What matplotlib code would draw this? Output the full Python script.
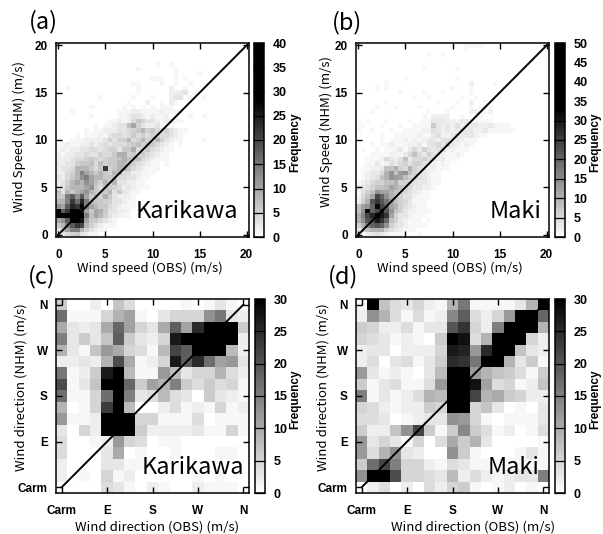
import numpy as np
import matplotlib
matplotlib.use('Agg')
import matplotlib.pyplot as plt
from matplotlib.colors import LinearSegmentedColormap, Normalize

W, H = 603, 534

# wind speed histograms, 0.5 m/s bins, rows go upward from y=0, trailing zeros left out
speed_bins = np.arange(0, 20.5, 0.5)

karikawa_speed = [
    [1,3,4,5,6,3,2,1,1],
    [3,6,10,14,14,8,5,3,2,1,1],
    [6,8,14,18,22,20,8,5,3,2,1,1,1],
    [10,12,18,28,28,26,10,6,6,4,3,2,1],
    [30,30,30,30,30,30,14,7,10,8,5,3,2,2,1,1,0,1],
    [30,18,22,28,28,24,10,6,10,9,6,3,3,2,2,1],
    [12,10,18,24,22,27,14,10,8,6,6,4,3,2,1,1,1],
    [8,8,14,22,16,24,14,8,6,6,5,5,3,3,2,1,1],
    [6,6,14,18,12,18,10,6,8,5,9,6,3,2,2,2,1],
    [7,3,8,6,8,10,12,8,6,6,6,8,3,6,3,2,1,1],
    [2,3,6,8,8,8,10,12,6,4,7,6,5,4,2,3,2,1,1,1],
    [2,3,5,8,10,8,12,10,7,5,8,5,8,3,3,2,2,1,1],
    [3,2,4,6,8,12,14,10,8,8,6,6,7,4,4,3,3,2,1,1],
    [2,2,4,5,8,14,10,8,6,8,6,5,8,8,4,4,2,2,1,1,1],
    [2,3,3,4,8,8,8,6,4,6,22,5,6,8,8,6,4,3,2,1,1,1],
    [2,2,3,3,5,6,6,7,4,7,5,6,6,8,8,6,5,4,3,2,1,1,0,1],
    [2,2,2,3,4,4,5,6,5,4,5,6,6,7,9,7,6,7,4,3,2,1,1,1],
    [2,1,2,2,3,3,4,3,3,5,4,4,6,9,9,5,6,4,6,4,3,2,1,1],
    [1,2,1,2,2,3,3,4,4,3,4,5,5,3,6,6,9,4,4,6,4,3,2,1,1],
    [1,1,2,1,1,2,2,3,2,3,4,3,4,4,4,5,6,7,5,6,6,4,3,2,1,0,1],
    [0,0,0,1,1,1,2,2,2,2,3,5,3,5,5,8,4,5,8,5,4,8,5,3,2,1,1,0,0,0,0,1],
    [0,0,0,0,1,0,1,1,1,2,1,3,4,4,3,4,6,4,5,4,5,5,4,4,3,2,1],
    [0,0,0,0,0,0,1,0,1,1,2,2,2,3,3,4,5,6,8,5,6,4,3,5,3,2,1,1],
    [0,0,0,0,0,0,0,0,1,0,1,1,2,3,3,7,10,5,3,2,2,3,1,1,1],
    [0,0,0,0,0,0,0,0,0,0,0,1,1,2,1,2,4,6,5,3,3,2,1,2,3,1,1],
    [0,0,0,0,0,0,0,1,0,0,0,0,0,1,1,2,3,3,2,1,2,1,1,2,0,1,0,0,1,0,0,1],
    [0,0,0,1,0,0,0,0,0,0,0,0,0,1,1,1,2,2,1,1,1,1,2,1,1,1,1],
    [0,0,0,0,0,0,0,1,0,0,0,0,0,0,1,0,1,0,1,0,1,0,1,1,1],
    [0,0,0,0,0,0,0,0,0,0,0,0,0,0,0,1,0,0,0,2,0,0,1,0,2,1],
    [0,0,0,0,0,0,0,0,0,1,0,0,0,0,0,0,1,0,0,0,1,0,0,0,2,3,3,0,1,0,0,1],
    [0,0,0,0,0,0,0,0,0,0,0,0,0,0,0,0,0,1,0,0,0,0,0,0,2,2,2,3,0,1],
    [0,0,1,0,0,0,0,0,0,0,0,0,0,0,0,0,0,1,0,0,0,0,0,0,2,0,0,1],
    [0,0,0,0,0,0,0,0,0,0,0,0,0,0,0,0,1,1,0,0,0,0,1,0,0,1,0,0,1],
    [0,0,0,0,0,0,0,0,0,0,0,0,0,0,0,0,0,0,0,0,1,1,1,0,0,1,0,1],
    [0,0,0,0,0,0,0,0,0,0,0,0,0,0,0,0,0,0,0,0,0,0,0,0,0,1,0,0,0,0,1],
    [0,0,0,0,0,0,0,0,0,0,0,0,0,0,0,0,0,1,0,0,0,0,0,0,0,1],
    [0,0,0,0,0,0,0,0,0,0,0,0,0,0,0,0,0,0,0,0,0,1,0,0,1],
]

maki_speed = [
    [1,1,2,3,4,3,2,1,1,1,0,0,0,1],
    [3,6,8,10,10,10,6,4,3,2,1,1,1],
    [6,10,16,20,22,20,14,6,4,3,2,1,1,1,1],
    [10,14,22,24,30,26,20,8,6,3,2,1,1,1,0,1],
    [10,16,24,28,32,30,26,12,6,3,3,2,1,1,1],
    [8,14,32,20,24,30,22,14,8,6,3,2,2,1,1,1],
    [8,12,14,20,32,24,20,12,10,6,4,3,2,1,1],
    [2,6,10,22,26,22,18,12,8,6,5,3,1,1,1],
    [2,5,8,12,24,20,14,10,8,6,4,4,2,1,1,1],
    [1,4,6,8,14,12,12,10,8,6,5,4,3,2,1,1],
    [3,3,4,6,8,8,9,12,10,8,6,5,3,3,2,2,1],
    [1,2,3,5,6,6,8,8,10,6,6,5,4,3,3,2,1,1],
    [0,1,2,3,4,8,10,14,13,12,8,6,5,4,3,2,1,1],
    [0,1,2,3,3,5,10,14,8,13,14,8,6,4,3,2,1,1],
    [0,1,1,2,2,3,8,8,10,6,5,10,6,4,3,2,2,1,1,1],
    [0,0,1,1,3,1,2,4,3,5,6,4,6,6,4,3,2,1,2,1],
    [0,0,1,1,1,2,5,3,2,4,8,3,5,5,6,4,4,2,3,1,1,1],
    [0,0,0,1,1,1,1,2,2,1,3,5,8,5,3,6,4,3,2,1,1,2,1],
    [0,1,0,0,1,0,1,1,2,3,1,3,5,3,6,4,3,4,5,2,2,1,1,1],
    [0,0,0,1,0,1,1,2,1,1,1,2,2,3,1,3,4,5,3,6,3,2,1,2,1],
    [0,0,0,0,0,1,0,1,1,1,2,1,2,1,2,3,3,2,4,4,2,3,2,1,1,1],
    [0,0,0,0,0,1,0,0,1,1,1,1,1,2,1,1,3,4,2,2,3,4,3,3,3,2,1,1],
    [1,0,0,1,0,0,0,1,0,0,1,1,1,1,2,2,4,3,2,3,2,3,4,3,3,2,2,3,1,1,1,1,1,1],
    [1,1,0,0,0,1,0,0,0,1,0,0,1,1,1,1,7,3,2,3,2,4,2,3,3,3,2,2,3,2,1,1,1],
    [1,0,1,0,0,0,1,0,0,0,0,1,0,0,1,1,3,3,3,2,2,1,3,3,1,1,1,1,1],
    [0,0,0,0,0,0,0,0,0,0,0,0,0,0,1,0,2,2,2,2,0,0,1,0,0,0,1],
    [0,0,0,1,0,0,0,0,0,0,0,0,0,0,0,1,0,0,0,1,0,0,0,0,2,2,1,1,2],
    [0,0,0,0,1,0,0,0,1,0,0,0,0,1,0,0,0,0,0,0,1,0,0,0,1,0,1,1,1],
    [0,0,0,0,0,0,1,0,0,0,0,0,0,0,0,0,0,1,0,0,0,1,0,0,2,0,0,1],
    [0,0,0,0,0,0,0,0,0,0,0,0,1,0,0,1,0,0,0,0,0,0,1,0,0,1],
    [0,0,0,0,0,0,0,0,0,1,0,0,0,0,1,0,0,0,1,0,0,0,0,0,1],
    [0,0,0,0,1,0,1,0,0,0,0,0,0,0,0,0,0,0,0,0,1,0,0,0,1],
    [0,0,0,0,0,0,1,0,0,0,0,0,0,0,0,0,0,0,0,0,0,0,0,0,2,0,0,0,0,1],
    [0,0,0,0,0,0,0,0,0,0,1,0,0,0,0,0,0,0,0,0,0,1],
    [],
    [0,0,0,0,0,0,0,0,0,0,0,0,0,0,1,0,0,0,0,0,0,1],
    [],
    [],
    [0,0,0,0,0,0,0,0,0,0,0,0,0,0,0,1,0,0,1],
    [0,0,0,0,0,0,0,0,0,0,0,0,0,0,0,0,0,0,0,0,0,0,0,1],
    [0,0,0,0,0,0,0,0,0,0,0,0,0,0,0,0,0,0,0,0,0,0,0,1,1,1,1],
]

# wind direction tables, rows listed from N (top) down to Carm
dir_labels = ['Carm', 'E', 'S', 'W', 'N']

karikawa_dir = [
    [6,0,0,2,0,7,4,0,0,0,0,1,0,1,3,1,0],
    [17,1,1,1,5,9,11,1,0,3,5,5,5,13,16,3,2],
    [10,3,2,3,10,18,11,5,3,10,19,11,25,30,30,30,6],
    [15,3,6,3,7,19,6,3,2,5,27,30,30,30,30,30,2],
    [9,3,1,7,12,10,5,4,1,8,22,19,30,30,30,8,2],
    [2,2,3,2,9,21,10,1,2,5,27,19,25,17,11,12,3],
    [16,1,2,6,27,30,8,1,1,12,8,3,5,5,9,4,2],
    [21,1,3,7,30,30,18,6,11,9,15,6,4,6,4,5,1],
    [17,1,1,5,17,30,15,3,4,8,4,3,0,6,3,2,1],
    [9,0,1,5,23,30,8,0,0,2,4,1,2,1,5,1,2],
    [12,1,1,2,30,30,30,5,5,1,1,1,4,0,1,1,1],
    [3,0,5,2,30,30,30,6,2,2,2,2,3,1,1,5,1],
    [4,0,0,1,2,12,5,4,0,1,1,0,0,0,0,0,0],
    [4,0,0,0,3,10,0,1,0,0,1,0,0,0,1,1,0],
    [2,0,0,0,3,3,1,1,0,0,0,0,0,0,0,0,0],
    [2,0,1,0,5,1,2,0,0,0,0,0,1,0,1,0,0],
    [0,0,0,0,4,3,1,0,2,1,0,0,2,1,1,1,0],
]

maki_dir = [
    [1,30,7,4,3,5,2,1,9,16,1,1,1,1,3,9,30],
    [2,13,9,4,1,4,1,2,14,19,4,2,5,12,30,30,18],
    [6,5,2,2,4,1,3,3,20,24,5,2,15,30,30,30,9],
    [5,4,3,1,2,1,0,6,30,28,4,9,30,30,30,5,2],
    [2,3,3,0,2,2,2,5,27,26,12,25,30,30,7,3,2],
    [2,4,0,3,4,1,3,6,25,24,16,30,30,9,3,6,1],
    [12,3,1,2,1,0,3,8,30,30,12,9,7,6,4,1,6],
    [6,1,3,4,1,1,4,12,30,30,28,11,4,5,1,2,7],
    [15,1,3,1,2,4,9,8,30,30,22,9,10,6,5,2,2],
    [5,4,2,1,2,2,6,5,30,30,5,7,3,0,1,0,3],
    [4,4,3,0,1,2,3,3,13,12,5,1,0,1,1,1,3],
    [6,2,2,7,13,22,6,1,6,14,6,4,1,2,0,1,4],
    [12,3,5,3,1,5,0,4,10,6,9,3,0,0,0,0,1],
    [12,4,9,13,3,2,0,0,13,6,1,0,0,0,1,3,1],
    [6,17,22,15,5,5,2,1,4,3,1,1,1,1,1,1,1],
    [13,30,30,21,5,5,4,3,8,2,4,2,1,2,3,3,15],
    [0,2,4,0,2,0,4,2,5,6,1,0,1,2,0,1,0],
]


def grid_from_rows(rows):
    z = np.zeros((len(speed_bins), len(speed_bins)))
    for i, row in enumerate(rows):
        z[i, :len(row)] = row
    return z


def fx(px):
    return px / W


def fy(py):
    return 1 - py / H


def make_axes(x0, x1, y0, y1):
    return fig.add_axes([fx(x0), fy(y1), fx(x1 - x0), (y1 - y0) / H])


def gray_map(black_at):
    return LinearSegmentedColormap.from_list(
        'g', [(0, '#ffffff'), (black_at, '#000000'), (1, '#000000')], N=256)


def panel(ax, cax, z, lim, ticks, ticklabels, top, black_at, cb_step):
    edges = np.arange(z.shape[0] + 1) * (lim[1] - lim[0]) / z.shape[0] + lim[0]
    m = ax.pcolormesh(edges, edges, z, cmap=gray_map(black_at),
                      norm=Normalize(0, top), rasterized=True)
    ax.plot([ticks[0], ticks[-1]], [ticks[0], ticks[-1]], color='k', lw=1.4)
    ax.set_xlim(lim)
    ax.set_ylim(lim)
    ax.set_xticks(ticks)
    ax.set_yticks(ticks)
    ax.set_xticklabels(ticklabels, fontweight='bold', fontsize=8.5)
    ax.set_yticklabels(ticklabels, fontweight='bold', fontsize=8.5)
    ax.tick_params(direction='in', top=True, right=True, length=4, width=1, pad=6)
    ax.tick_params(axis='x', pad=9)
    for s in ax.spines.values():
        s.set_linewidth(1.1)

    cb = fig.colorbar(m, cax=cax)
    cb.set_ticks(np.arange(0, top + 1, cb_step))
    cb.ax.tick_params(direction='in', length=8, width=0.9, pad=6, labelsize=9)
    for t in cb.ax.get_yticklabels():
        t.set_fontweight('bold')
    cb.outline.set_linewidth(1.1)


plt.rcParams['font.family'] = ['Liberation Sans', 'DejaVu Sans']

fig = plt.figure(figsize=(W / 100, H / 100), dpi=100)

ax_a = make_axes(56, 249, 43, 237)
ax_b = make_axes(356, 549, 43, 237)
ax_c = make_axes(56, 249, 299, 493)
ax_d = make_axes(356, 549, 299, 493)
cax_a = make_axes(254, 264, 43, 237)
cax_b = make_axes(555, 565, 43, 237)
cax_c = make_axes(255, 265, 299, 493)
cax_d = make_axes(555, 565, 299, 493)

speed_ticks = [0, 5, 10, 15, 20]
panel(ax_a, cax_a, grid_from_rows(karikawa_speed), (-0.25, 20.25), speed_ticks,
      [str(t) for t in speed_ticks], 40, 28 / 40, 5)
panel(ax_b, cax_b, grid_from_rows(maki_speed), (-0.25, 20.25), speed_ticks,
      [str(t) for t in speed_ticks], 50, 33 / 50, 5)

dir_ticks = [0, 4, 8, 12, 16]
panel(ax_c, cax_c, np.flipud(np.array(karikawa_dir, float)), (-0.5, 16.5), dir_ticks,
      dir_labels, 30, 1.0, 5)
panel(ax_d, cax_d, np.flipud(np.array(maki_dir, float)), (-0.5, 16.5), dir_ticks,
      dir_labels, 30, 1.0, 5)

jp = ['Noto Sans CJK JP', 'DejaVu Sans']


def label(px, py, s, size, rotation=0, family=jp, weight='normal'):
    fig.text(fx(px), fy(py), s, fontsize=size, rotation=rotation, family=family,
             fontweight=weight, ha='center', va='center')


# panel letters
label(43, 22, '(a)', 17)
label(347, 23, '(b)', 17)
label(42, 277, '(c)', 17)
label(343, 277, '(d)', 17)

# axis labels
label(150, 268, 'Wind speed (OBS) (m/s)', 9.5)
label(450, 268, 'Wind speed (OBS) (m/s)', 9.5)
label(157, 527, 'Wind direction (OBS) (m/s)', 9.5)
label(473, 527, 'Wind direction (OBS) (m/s)', 9.5)
label(19, 136, 'Wind Speed (NHM) (m/s)', 9.5, rotation=90)
label(326, 132, 'Wind Speed (NHM) (m/s)', 9.5, rotation=90)
label(21, 387, 'Wind direction (NHM) (m/s)', 9.5, rotation=90)
label(323, 387, 'Wind direction (NHM) (m/s)', 9.5, rotation=90)

# colorbar titles
bold = ['Liberation Sans', 'DejaVu Sans']
label(295, 142, 'Frequency', 8.5, rotation=90, family=bold, weight='bold')
label(595, 142, 'Frequency', 8.5, rotation=90, family=bold, weight='bold')
label(295, 399, 'Frequency', 8.5, rotation=90, family=bold, weight='bold')
label(595, 399, 'Frequency', 8.5, rotation=90, family=bold, weight='bold')

# station names
label(187, 211, 'Karikawa', 17)
label(516, 211, 'Maki', 17)
label(193, 467, 'Karikawa', 17)
label(514, 467, 'Maki', 17)

fig.savefig('out.png', dpi=100)
